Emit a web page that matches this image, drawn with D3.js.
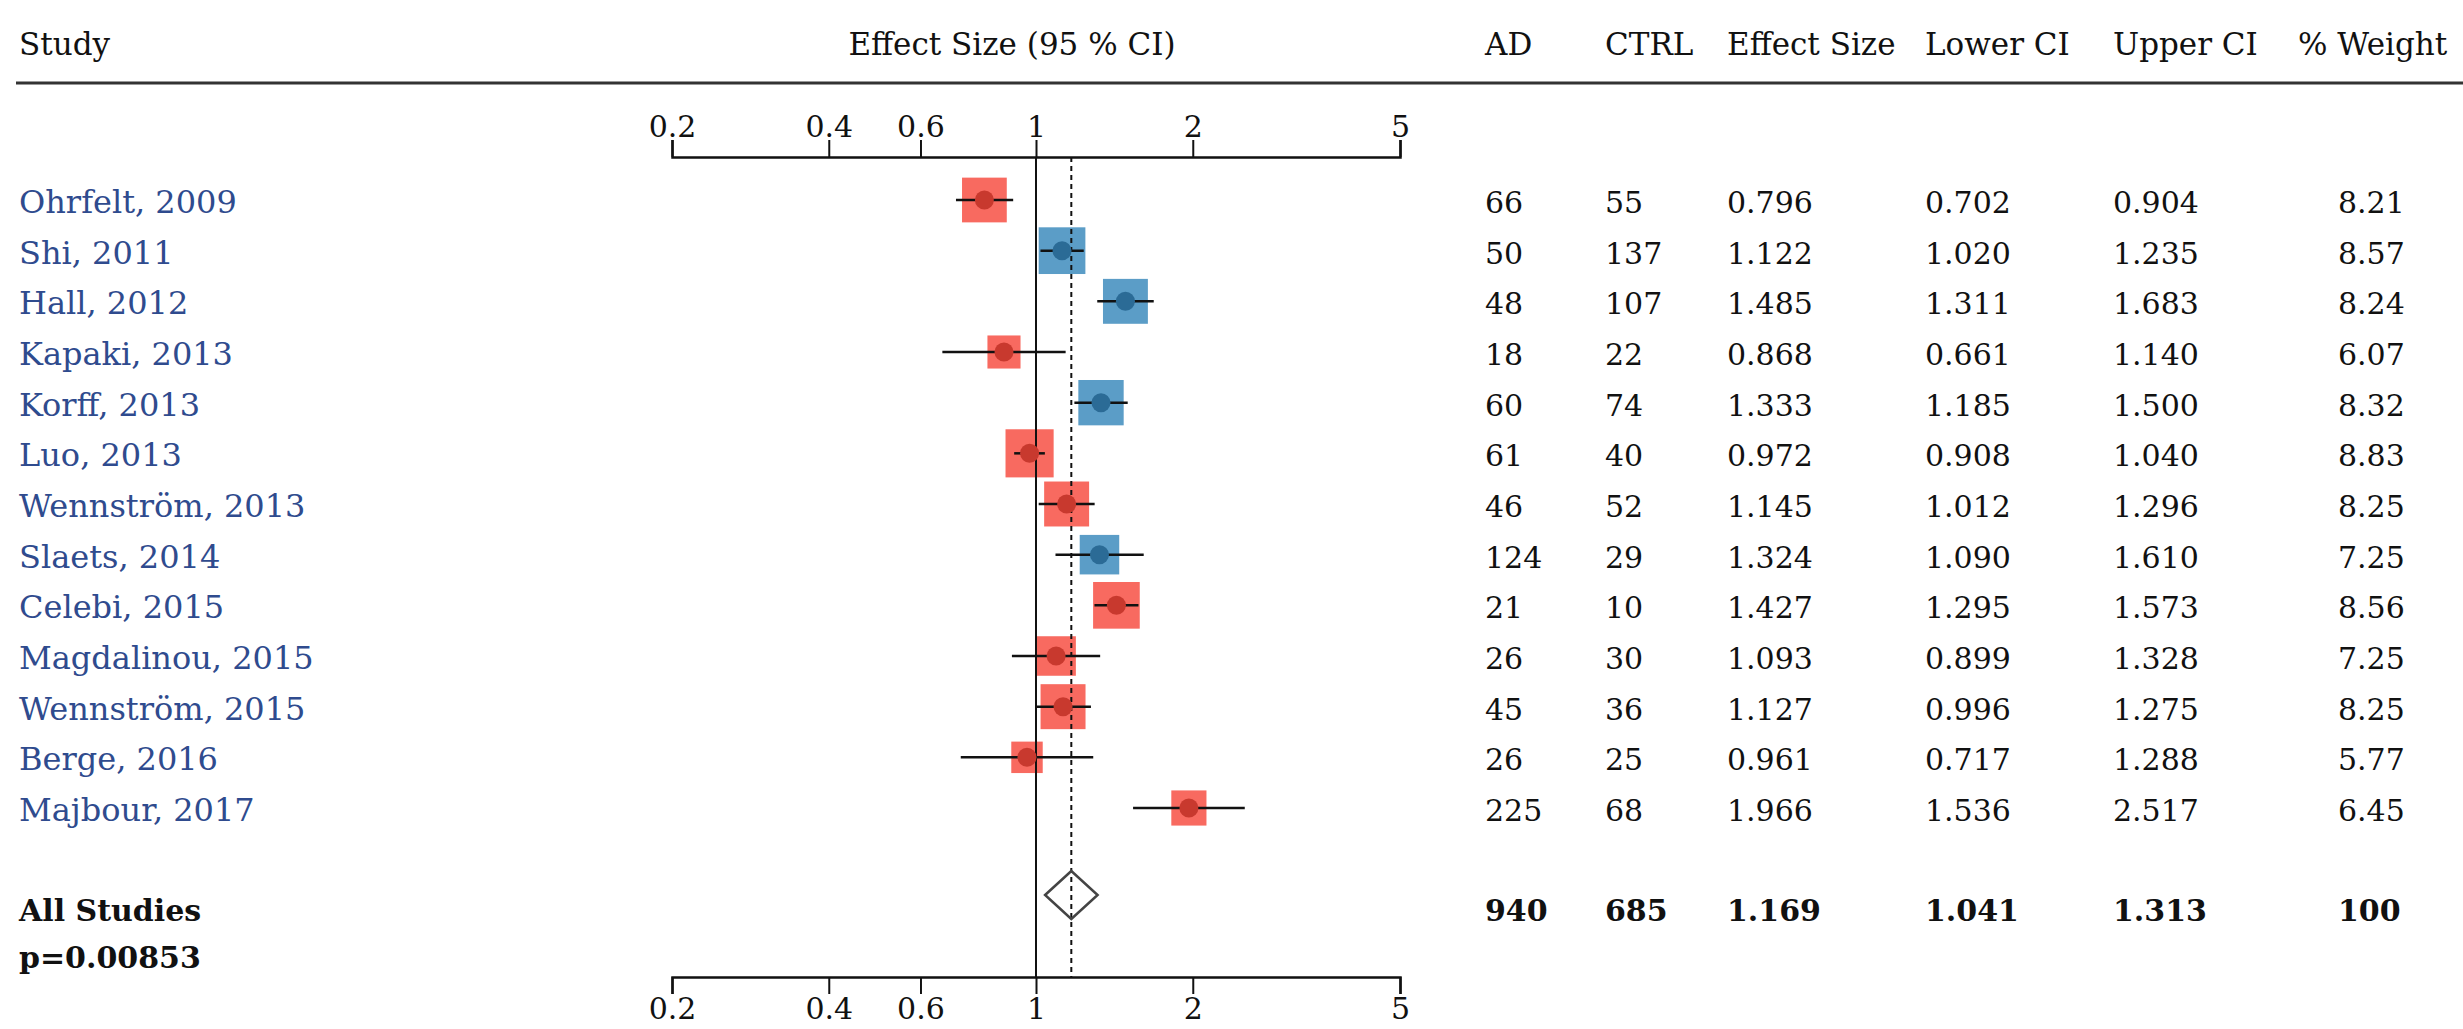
<!DOCTYPE html>
<html>
<head>
<meta charset="utf-8">
<script src="https://cdn.jsdelivr.net/npm/d3@7"></script>
<style>
  body { margin: 0; background: #fff; }
  text { font-family: "DejaVu Serif", Georgia, serif; }
</style>
</head>
<body>
<div id="chart-area"></div>
<script>
// DATA
const studies = ['Ohrfelt, 2009', 'Shi, 2011', 'Hall, 2012', 'Kapaki, 2013', 'Korff, 2013', 'Luo, 2013',
  'Wennström, 2013', 'Slaets, 2014', 'Celebi, 2015', 'Magdalinou, 2015', 'Wennström, 2015', 'Berge, 2016', 'Majbour, 2017']
const groups = ['a', 'b', 'b', 'a', 'b', 'a', 'a', 'b', 'a', 'a', 'a', 'a', 'a']
const ad = [66, 50, 48, 18, 60, 61, 46, 124, 21, 26, 45, 26, 225]
const ctrl = [55, 137, 107, 22, 74, 40, 52, 29, 10, 30, 36, 25, 68]
const effect = [0.796, 1.122, 1.485, 0.868, 1.333, 0.972, 1.145, 1.324, 1.427, 1.093, 1.127, 0.961, 1.966]
const lowerCI = [0.702, 1.020, 1.311, 0.661, 1.185, 0.908, 1.012, 1.090, 1.295, 0.899, 0.996, 0.717, 1.536]
const upperCI = [0.904, 1.235, 1.683, 1.140, 1.500, 1.040, 1.296, 1.610, 1.573, 1.328, 1.275, 1.288, 2.517]
const weight = [8.21, 8.57, 8.24, 6.07, 8.32, 8.83, 8.25, 7.25, 8.56, 7.25, 8.25, 5.77, 6.45]

const summary = { ad: 940, ctrl: 685, effect: 1.169, lower: 1.041, upper: 1.313, weight: 100 }
const pValue = 'p=0.00853'
const tickValues = [0.2, 0.4, 0.6, 1, 2, 5]
const headers = ['AD', 'CTRL', 'Effect Size', 'Lower CI', 'Upper CI', '% Weight']

const WIDTH = 2463
const HEIGHT = 1029
const AXIS_TOP = 157
const AXIS_BOTTOM = 977
const SUMMARY_Y = 895

const COLORS = {
  a: { box: '#f86a60', dot: '#c8392e' },
  b: { box: '#5b9dc7', dot: '#2b6b96' }
}

const svg = d3.select('#chart-area').append('svg')
  .attr('width', WIDTH)
  .attr('height', HEIGHT)

const data = studies.map((s, i) => ({
  study: s, group: groups[i], ad: ad[i], ctrl: ctrl[i],
  effect: effect[i], lower: lowerCI[i], upper: upperCI[i], weight: weight[i]
}))

// SCALES
const x = d3.scaleLog()
  .domain([0.2, 5])
  .range([672, 1400])
const y = d3.scalePoint()
  .domain(studies)
  .range([200, 808])
const side = d3.scaleLinear()
  .domain([0, 10])
  .range([0, 54.5])

// HEADER
svg.append('text')
  .attr('x', 19).attr('y', 55)
  .attr('font-size', '31px').attr('fill', '#111')
  .text('Study')
svg.append('text')
  .attr('x', 1012).attr('y', 55)
  .attr('font-size', '31px').attr('fill', '#111')
  .attr('text-anchor', 'middle')
  .text('Effect Size (95 % CI)')

const colX = [1485, 1605, 1727, 1925, 2113, 2298]
const valX = [1485, 1605, 1727, 1925, 2113, 2338]
svg.selectAll('.col-head')
  .data(headers)
  .enter().append('text')
  .attr('class', 'col-head')
  .attr('x', (d, i) => colX[i])
  .attr('y', 55)
  .attr('font-size', '31px').attr('fill', '#111')
  .text(d => d)

svg.append('line')
  .attr('x1', 16).attr('x2', WIDTH)
  .attr('y1', 83).attr('y2', 83)
  .attr('stroke', '#333').attr('stroke-width', 3)

// AXES
const topAxis = d3.axisTop(x)
  .tickValues(tickValues)
  .tickFormat(d => String(d))
  .tickSize(17)
  .tickPadding(3)
const bottomAxis = d3.axisBottom(x)
  .tickValues(tickValues)
  .tickFormat(d => String(d))
  .tickSize(17)
  .tickPadding(4)

function styleAxis (g) {
  g.select('.domain').attr('stroke', '#111').attr('stroke-width', 2.5)
  g.selectAll('.tick line').attr('stroke', '#111').attr('stroke-width', 2)
  g.selectAll('.tick text')
    .attr('font-size', '30px')
    .attr('font-family', '"DejaVu Serif", Georgia, serif')
    .attr('fill', '#111')
}

svg.append('g')
  .attr('transform', `translate(0, ${AXIS_TOP})`)
  .call(topAxis)
  .call(styleAxis)
svg.append('g')
  .attr('transform', `translate(0, ${AXIS_BOTTOM})`)
  .call(bottomAxis)
  .call(styleAxis)

// BOXES
svg.selectAll('.box')
  .data(data)
  .enter().append('rect')
  .attr('class', 'box')
  .attr('x', d => x(d.effect) - side(d.weight) / 2)
  .attr('y', d => y(d.study) - side(d.weight) / 2)
  .attr('width', d => side(d.weight))
  .attr('height', d => side(d.weight))
  .attr('fill', d => COLORS[d.group].box)

// REFERENCE LINES
svg.append('line')
  .attr('x1', x(1)).attr('x2', x(1))
  .attr('y1', AXIS_TOP).attr('y2', AXIS_BOTTOM)
  .attr('stroke', '#111').attr('stroke-width', 2)
svg.append('line')
  .attr('x1', x(summary.effect)).attr('x2', x(summary.effect))
  .attr('y1', AXIS_TOP).attr('y2', AXIS_BOTTOM)
  .attr('stroke', '#111').attr('stroke-width', 2)
  .attr('stroke-dasharray', '5,4')

// CONFIDENCE INTERVALS
svg.selectAll('.ci')
  .data(data)
  .enter().append('line')
  .attr('class', 'ci')
  .attr('x1', d => x(d.lower))
  .attr('x2', d => x(d.upper))
  .attr('y1', d => y(d.study))
  .attr('y2', d => y(d.study))
  .attr('stroke', '#111').attr('stroke-width', 2.5)

svg.selectAll('.dot')
  .data(data)
  .enter().append('circle')
  .attr('class', 'dot')
  .attr('cx', d => x(d.effect))
  .attr('cy', d => y(d.study))
  .attr('r', 9.5)
  .attr('fill', d => COLORS[d.group].dot)

// SUMMARY DIAMOND
const dh = 24
svg.append('path')
  .attr('d', `M${x(summary.lower)},${SUMMARY_Y} L${x(summary.effect)},${SUMMARY_Y - dh} L${x(summary.upper)},${SUMMARY_Y} L${x(summary.effect)},${SUMMARY_Y + dh} Z`)
  .attr('fill', 'none')
  .attr('stroke', '#444').attr('stroke-width', 2.5)

// ROW TEXT
svg.selectAll('.study')
  .data(data)
  .enter().append('text')
  .attr('class', 'study')
  .attr('x', 19)
  .attr('y', d => y(d.study) + 13)
  .attr('font-size', '32px')
  .attr('fill', '#2f4b8e')
  .text(d => d.study)

const fmt3 = d3.format('.3f')
const cols = [
  d => d.ad, d => d.ctrl, d => fmt3(d.effect), d => fmt3(d.lower), d => fmt3(d.upper), d => d.weight.toFixed(2)
]
cols.forEach((f, ci) => {
  svg.selectAll(`.val-${ci}`)
    .data(data)
    .enter().append('text')
    .attr('class', `val-${ci}`)
    .attr('x', valX[ci])
    .attr('y', d => y(d.study) + 13)
    .attr('font-size', '30px')
    .attr('fill', '#111')
    .text(f)
})

// SUMMARY TEXT
svg.append('text')
  .attr('x', 19).attr('y', 921)
  .attr('font-size', '30px').attr('font-weight', 'bold').attr('fill', '#111')
  .text('All Studies')
svg.append('text')
  .attr('x', 19).attr('y', 968)
  .attr('font-size', '30px').attr('font-weight', 'bold').attr('fill', '#111')
  .text(pValue)

const sumVals = [summary.ad, summary.ctrl, fmt3(summary.effect), fmt3(summary.lower), fmt3(summary.upper), summary.weight]
svg.selectAll('.sum-val')
  .data(sumVals)
  .enter().append('text')
  .attr('class', 'sum-val')
  .attr('x', (d, i) => valX[i])
  .attr('y', 921)
  .attr('font-size', '30px').attr('font-weight', 'bold').attr('fill', '#111')
  .text(d => d)
</script>
</body>
</html>
